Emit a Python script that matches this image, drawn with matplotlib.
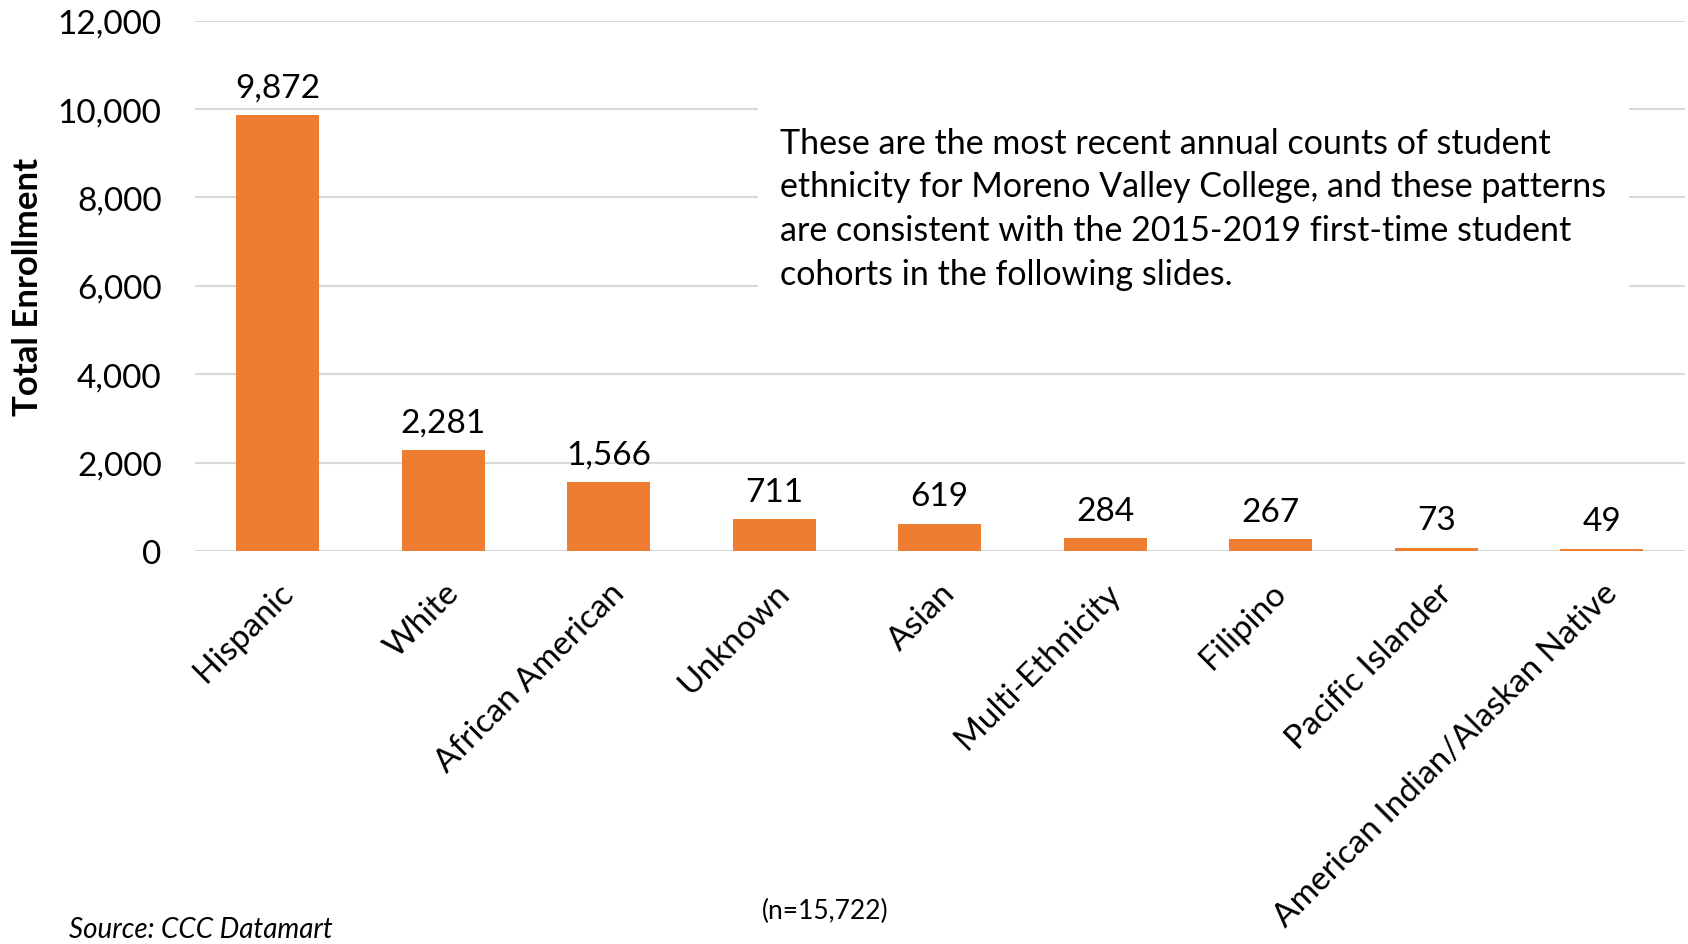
import matplotlib.pyplot as plt
from matplotlib.ticker import FuncFormatter

# === Data ===
categories = ["Hispanic", "White", "African American", "Unknown", "Asian",
              "Multi-Ethnicity", "Filipino", "Pacific Islander",
              "American Indian/Alaskan Native"]
enrollment = [9872, 2281, 1566, 711, 619, 284, 267, 73, 49]
yticks = [0, 2000, 4000, 6000, 8000, 10000, 12000]

note = ("These are the most recent annual counts of student\n"
        "ethnicity for Moreno Valley College, and these patterns\n"
        "are consistent with the 2015-2019 first-time student\n"
        "cohorts in the following slides.")

plt.rcParams['font.family'] = ['Lato', 'DejaVu Sans']

fig = plt.figure(figsize=(16.88, 9.45), dpi=100)
ax = fig.add_axes([0.1155, 0.416, 0.8825, 0.561])

x = range(len(categories))
bars = ax.bar(x, enrollment, width=0.5, color="#ED7D31", zorder=2)

# value labels
for xi, v in zip(x, enrollment):
    ax.annotate(f"{v:,}", (xi, v), xytext=(0, 9), textcoords="offset points",
                ha="center", va="bottom", fontsize=24)

ax.set_xlim(-0.5, len(categories) - 0.5)
ax.set_ylim(0, 12000)
ax.set_yticks(yticks)
ax.yaxis.set_major_formatter(FuncFormatter(lambda v, p: f"{int(v):,}"))
ax.tick_params(axis="y", labelsize=24, length=0, pad=24)
ax.tick_params(axis="x", length=0, pad=19)
ax.set_xticks(list(x))
ax.set_xticklabels(categories, rotation=45, ha="right", rotation_mode="anchor",
                   fontsize=24)

ax.grid(axis="y", color="#d9d9d9", linewidth=1.5, zorder=0)
for s in ax.spines.values():
    s.set_visible(False)

ax.set_ylabel("Total Enrollment", fontsize=25, fontweight="bold", labelpad=10)

# note box
ax.text(0.393, 0.80, note, transform=ax.transAxes, fontsize=24.5,
        va="top", ha="left", linespacing=1.45,
        bbox=dict(facecolor="white", edgecolor="none", pad=16), zorder=3)

fig.text(0.489, 0.036, "(n=15,722)", ha="center", va="center", fontsize=19)
fig.text(0.041, 0.016, "Source: CCC Datamart", ha="left", va="center",
         fontsize=20, style="italic")

plt.savefig("out.png", dpi=100)
